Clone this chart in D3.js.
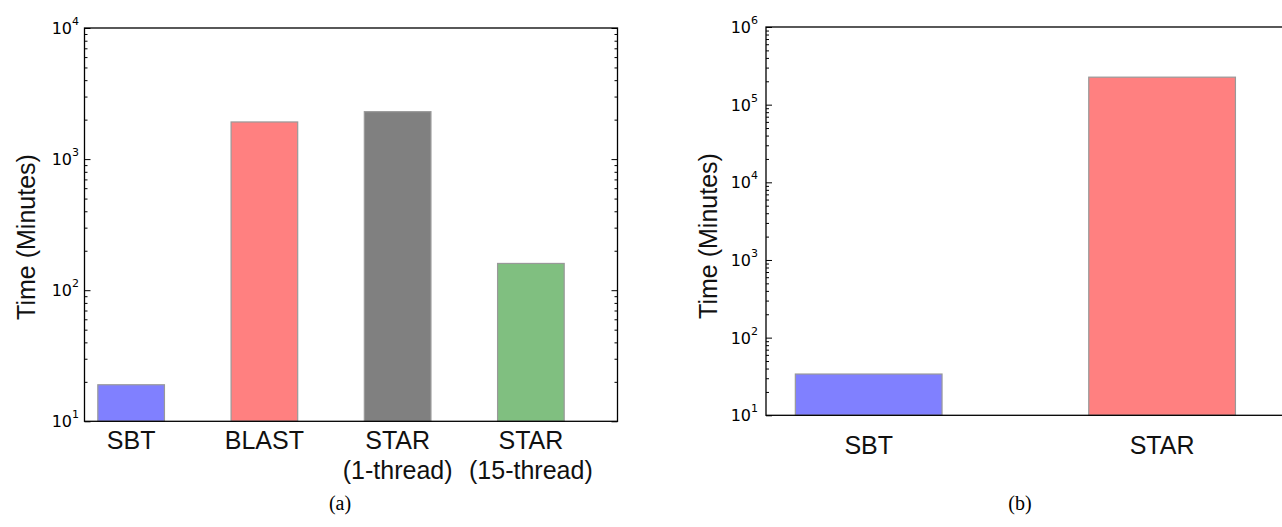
<!DOCTYPE html>
<html>
<head>
<meta charset="utf-8">
<script src="https://cdn.jsdelivr.net/npm/d3@7"></script>
<style>
    body { margin: 0; background: white; }
    svg { display: block; }
</style>
</head>
<body>
<svg id="view" width="1282" height="527"></svg>
<script>
// DATA
var LEFT_CATEGORIES = [["SBT"], ["BLAST"], ["STAR", "(1-thread)"], ["STAR", "(15-thread)"]];
var LEFT_VALUES = [19, 1920, 2300, 160];
var LEFT_COLORS = ["#8080ff", "#ff8080", "#808080", "#80bf80"];
var LEFT_EXPONENTS = [1, 2, 3, 4];

var RIGHT_CATEGORIES = [["SBT"], ["STAR"]];
var RIGHT_VALUES = [34, 226000];
var RIGHT_COLORS = ["#8080ff", "#ff8080"];
var RIGHT_EXPONENTS = [1, 2, 3, 4, 5, 6];

var Y_LABEL = "Time (Minutes)";
var CAPTIONS = ["(a)", "(b)"];

// CONSTANTS
var SANS = "'Liberation Sans', Arial, Helvetica, sans-serif";
var TICK_FONT = "'DejaVu Sans', sans-serif";
var SERIF = "'Liberation Serif', 'Times New Roman', serif";
var BAR_WIDTH = 0.5;
var MAJOR = 6;
var MINOR = 3;


function minorTicks(exponents) {
    var out = [];
    for (var i = 0; i < exponents.length - 1; i++) {
        var base = Math.pow(10, exponents[i]);
        for (var k = 2; k < 10; k++) {
            out.push(base * k);
        }
    }
    return out;
}

function drawYTicks(parent, y, exponents, x0, side) {
    var majors = exponents.map(function(e) { return Math.pow(10, e); });
    var axisFn = side === "left" ? d3.axisLeft : d3.axisRight;
    var g = parent.append("g").attr("transform", "translate(" + x0 + ",0)");
    g.append("g")
        .call(axisFn(y).tickValues(minorTicks(exponents)).tickFormat("")
            .tickSizeInner(-MINOR).tickSizeOuter(0))
        ;
    g.append("g")
        .call(axisFn(y).tickValues(majors).tickFormat("")
            .tickSizeInner(-MAJOR).tickSizeOuter(0))
        ;
    g.selectAll(".domain").remove();
    g.selectAll(".tick line").attr("stroke", "black").attr("stroke-width", 1);
    return g;
}

function drawYLabels(parent, y, exponents, xRight) {
    for (var i = 0; i < exponents.length; i++) {
        var e = exponents[i];
        var t = parent.append("text")
            .attr("x", xRight)
            .attr("y", y(Math.pow(10, e)) + 6)
            .attr("text-anchor", "end")
            .attr("font-family", TICK_FONT)
            .attr("font-size", 16)
            .attr("fill", "black")
            ;
        t.append("tspan").text("10");
        t.append("tspan")
            .attr("dy", -9)
            .attr("font-size", 11)
            .text(e);
    }
}

function drawBars(parent, x, y, values, colors) {
    parent.selectAll("rect.bar")
        .data(values)
        .enter()
        .append("rect")
        .attr("class", "bar")
        .attr("x", function(d, i) { return x(i); })
        .attr("width", function(d, i) { return x(i + BAR_WIDTH) - x(i); })
        .attr("y", function(d) { return y(d); })
        .attr("height", function(d) { return y.range()[0] - y(d); })
        .attr("fill", function(d, i) { return colors[i]; })
        .attr("stroke", "#999")
        .attr("stroke-width", 1.2)
        ;
}

function drawCategories(parent, x, categories, baseline) {
    for (var i = 0; i < categories.length; i++) {
        var lines = categories[i];
        var t = parent.append("text")
            .attr("x", x(i + BAR_WIDTH / 2))
            .attr("y", baseline)
            .attr("text-anchor", "middle")
            .attr("font-family", SANS)
            .attr("font-size", 25)
            .attr("fill", "#111")
            ;
        for (var j = 0; j < lines.length; j++) {
            t.append("tspan")
                .attr("x", x(i + BAR_WIDTH / 2))
                .attr("dy", j === 0 ? 0 : 30)
                .text(lines[j]);
        }
    }
}

function drawYTitle(parent, cx, cy) {
    parent.append("text")
        .attr("transform", "translate(" + cx + "," + cy + ") rotate(-90)")
        .attr("text-anchor", "middle")
        .attr("dy", "0.35em")
        .attr("font-family", SANS)
        .attr("font-size", 25)
        .attr("fill", "#111")
        .text(Y_LABEL);
}

function drawCaption(parent, cx, text) {
    parent.append("text")
        .attr("x", cx)
        .attr("y", 510)
        .attr("text-anchor", "middle")
        .attr("font-family", SERIF)
        .attr("font-size", 20)
        .attr("fill", "black")
        .text(text);
}


// panel (a)
function drawLeft(svg) {
    var left = 84.5, right = 617.5, top = 28, bottom = 421.3;
    var x = d3.scaleLinear().domain([-0.1, LEFT_VALUES.length - 0.1]).range([left, right]);
    var y = d3.scaleLog()
        .domain([Math.pow(10, LEFT_EXPONENTS[0]), Math.pow(10, LEFT_EXPONENTS[LEFT_EXPONENTS.length - 1])])
        .range([bottom, top]);
    var g = svg.append("g");
    drawBars(g, x, y, LEFT_VALUES, LEFT_COLORS);
    drawYTicks(g, y, LEFT_EXPONENTS, left, "left");
    drawYTicks(g, y, LEFT_EXPONENTS, right, "right");
    g.append("rect")
        .attr("x", left)
        .attr("y", top)
        .attr("width", right - left)
        .attr("height", bottom - top)
        .attr("fill", "none")
        .attr("stroke", "black")
        .attr("stroke-width", 1.3)
        ;
    drawYLabels(g, y, LEFT_EXPONENTS, 79);
    drawCategories(g, x, LEFT_CATEGORIES, 449);
    drawYTitle(g, 26, 237);
    drawCaption(g, 340, CAPTIONS[0]);
}

// panel (b)
function drawRight(svg) {
    var left = 766, top = 27, bottom = 415.3;
    var unit = 293.4;
    var right = left + unit * RIGHT_VALUES.length;
    var x = d3.scaleLinear().domain([-0.1, RIGHT_VALUES.length - 0.1]).range([left, right]);
    var y = d3.scaleLog()
        .domain([Math.pow(10, RIGHT_EXPONENTS[0]), Math.pow(10, RIGHT_EXPONENTS[RIGHT_EXPONENTS.length - 1])])
        .range([bottom, top]);
    var g = svg.append("g");
    drawBars(g, x, y, RIGHT_VALUES, RIGHT_COLORS);
    drawYTicks(g, y, RIGHT_EXPONENTS, left, "left");
    g.append("rect")
        .attr("x", left)
        .attr("y", top)
        .attr("width", right - left)
        .attr("height", bottom - top)
        .attr("fill", "none")
        .attr("stroke", "black")
        .attr("stroke-width", 1.3)
        ;
    drawYLabels(g, y, RIGHT_EXPONENTS, 758);
    drawCategories(g, x, RIGHT_CATEGORIES, 454);
    drawYTitle(g, 708, 236);
    drawCaption(g, 1020, CAPTIONS[1]);
}


// main
function main() {
    var svg = d3.select("#view");
    drawLeft(svg);
    drawRight(svg);
}

main();
</script>
</body>
</html>
